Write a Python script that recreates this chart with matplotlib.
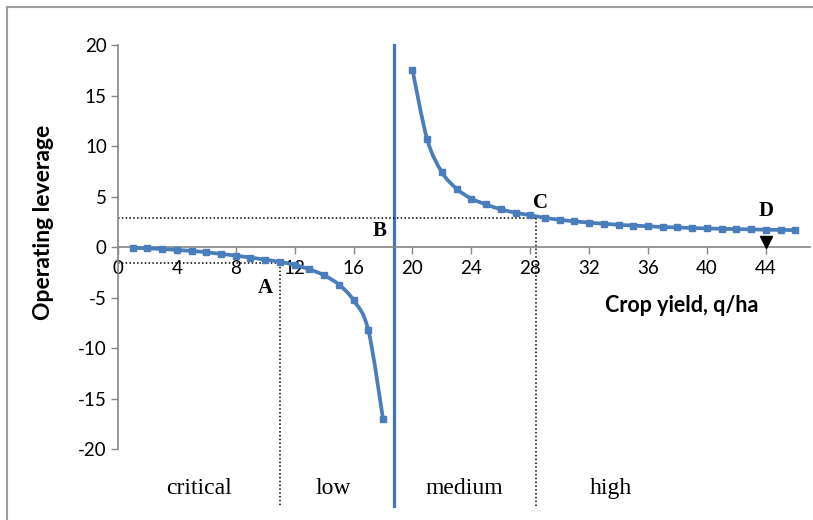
import numpy as np
import matplotlib.pyplot as plt
from matplotlib.patches import PathPatch
from matplotlib.path import Path
from matplotlib.lines import Line2D

plt.rcParams["axes.unicode_minus"] = False

# Operating leverage vs crop yield
x_low = [1, 2, 3, 4, 5, 6, 7, 8, 9, 10, 11, 12, 13, 14, 15, 16, 17, 18]
y_low = [-0.05, -0.11, -0.17, -0.27, -0.36, -0.5, -0.66, -0.83, -1.02, -1.23,
         -1.45, -1.75, -2.18, -2.78, -3.7, -5.25, -8.2, -17.0]

x_high = [20, 21, 22, 23, 24, 25, 26, 27, 28, 29, 30, 31, 32, 33, 34, 35, 36,
          37, 38, 39, 40, 41, 42, 43, 44, 45, 46]
y_high = [17.6, 10.7, 7.45, 5.8, 4.82, 4.25, 3.76, 3.43, 3.17, 2.92, 2.72,
          2.57, 2.44, 2.33, 2.23, 2.15, 2.08, 2.01, 1.96, 1.91, 1.87, 1.83,
          1.8, 1.77, 1.74, 1.72, 1.7]

x_ticks = [0, 4, 8, 12, 16, 20, 24, 28, 32, 36, 40, 44]
y_ticks = [-20, -15, -10, -5, 0, 5, 10, 15, 20]

# break-even line and zone limits
x_B = 18.75
x_A, y_A = 11, -1.58
x_C, y_C = 28.4, 2.9
x_D = 44
zones = ["critical", "low", "medium", "high"]
zone_x = [5.5, 14.6, 23.5, 33.5]

sans = "Lato"
serif = "Liberation Serif"
blue = "#4a7ebb"
grey = "#868686"


def smooth_path(xs, ys, k=1 / 6):
    # Excel-style smoothed line: cubic Bezier segments through the points
    p = np.column_stack([xs, ys]).astype(float)
    verts = [p[0]]
    codes = [Path.MOVETO]
    n = len(p)
    for i in range(n - 1):
        p0 = p[i - 1] if i > 0 else p[i]
        p3 = p[i + 2] if i + 2 < n else p[i + 1]
        c1 = p[i] + (p[i + 1] - p0) * k
        c2 = p[i + 1] - (p3 - p[i]) * k
        verts += [c1, c2, p[i + 1]]
        codes += [Path.CURVE4] * 3
    return Path(verts, codes)


fig = plt.figure(figsize=(8.13, 5.20), dpi=100)
ax = fig.add_axes([0.1451, 0.1365, 0.8512, 0.776])

for xs, ys in [(x_low, y_low), (x_high, y_high)]:
    ax.add_patch(PathPatch(smooth_path(xs, ys), fill=False, edgecolor=blue,
                           lw=2.7, zorder=3, capstyle="round"))
    ax.plot(xs, ys, ls="none", color=blue, marker="s", ms=4.2, zorder=4)

ax.set_xlim(0, 47)
ax.set_ylim(-20, 20)
y_bot = -25.6

# break-even vertical
ax.plot([x_B, x_B], [20, y_bot], color="#4472c4", lw=2.3, clip_on=False, zorder=2)
# dotted guides
dot = dict(color="black", lw=1.1, ls=(0, (1, 1.5)), clip_on=False)
ax.plot([0, x_A], [y_A, y_A], **dot)
ax.plot([x_A, x_A], [y_A, y_bot], **dot)
ax.plot([0, x_C], [y_C, y_C], **dot)
ax.plot([x_C, x_C], [y_C, y_bot], **dot)

# arrow at D
ax.plot([x_D], [0.55], marker="v", color="black", ms=8, clip_on=False, zorder=5)

for lbl, lx, ly in [("A", 10.0, -4.0), ("B", 17.8, 1.6), ("C", 28.7, 4.4), ("D", 44.0, 3.6)]:
    ax.text(lx, ly, lbl, fontfamily=serif, fontweight="bold", fontsize=15,
            ha="center", va="center")

for z, zx in zip(zones, zone_x):
    ax.text(zx, -23.9, z, fontfamily=serif, fontsize=17, ha="center", va="center")

ax.spines["top"].set_visible(False)
ax.spines["right"].set_visible(False)
ax.spines["bottom"].set_position(("data", 0))
ax.spines["left"].set_position(("data", 0))
for s in ["bottom", "left"]:
    ax.spines[s].set_color(grey)
    ax.spines[s].set_linewidth(1.2)

ax.set_xticks(x_ticks)
ax.set_yticks(y_ticks)
ax.tick_params(axis="both", direction="out", length=5, color=grey, width=1,
               labelsize=13.5, pad=3)
ax.tick_params(axis="x", pad=4)
for t in ax.get_xticklabels() + ax.get_yticklabels():
    t.set_fontfamily(sans)

ax.text(38.3, -5.8, "Crop yield, q/ha", fontfamily=sans, fontweight="bold",
        fontsize=15.5, ha="center", va="center")
fig.text(0.053, 0.573, "Operating leverage", fontfamily=sans, fontweight="bold",
         fontsize=16.5, rotation=90, ha="center", va="center")

# chart border: only its top and left edges fall inside the image
fig.add_artist(Line2D([0.008, 1.0], [0.986, 0.986], transform=fig.transFigure,
                      color="#a0a0a0", lw=1.5))
fig.add_artist(Line2D([0.008, 0.008], [0.0, 0.986], transform=fig.transFigure,
                      color="#a0a0a0", lw=1.5))

fig.savefig("out.png", dpi=100)
